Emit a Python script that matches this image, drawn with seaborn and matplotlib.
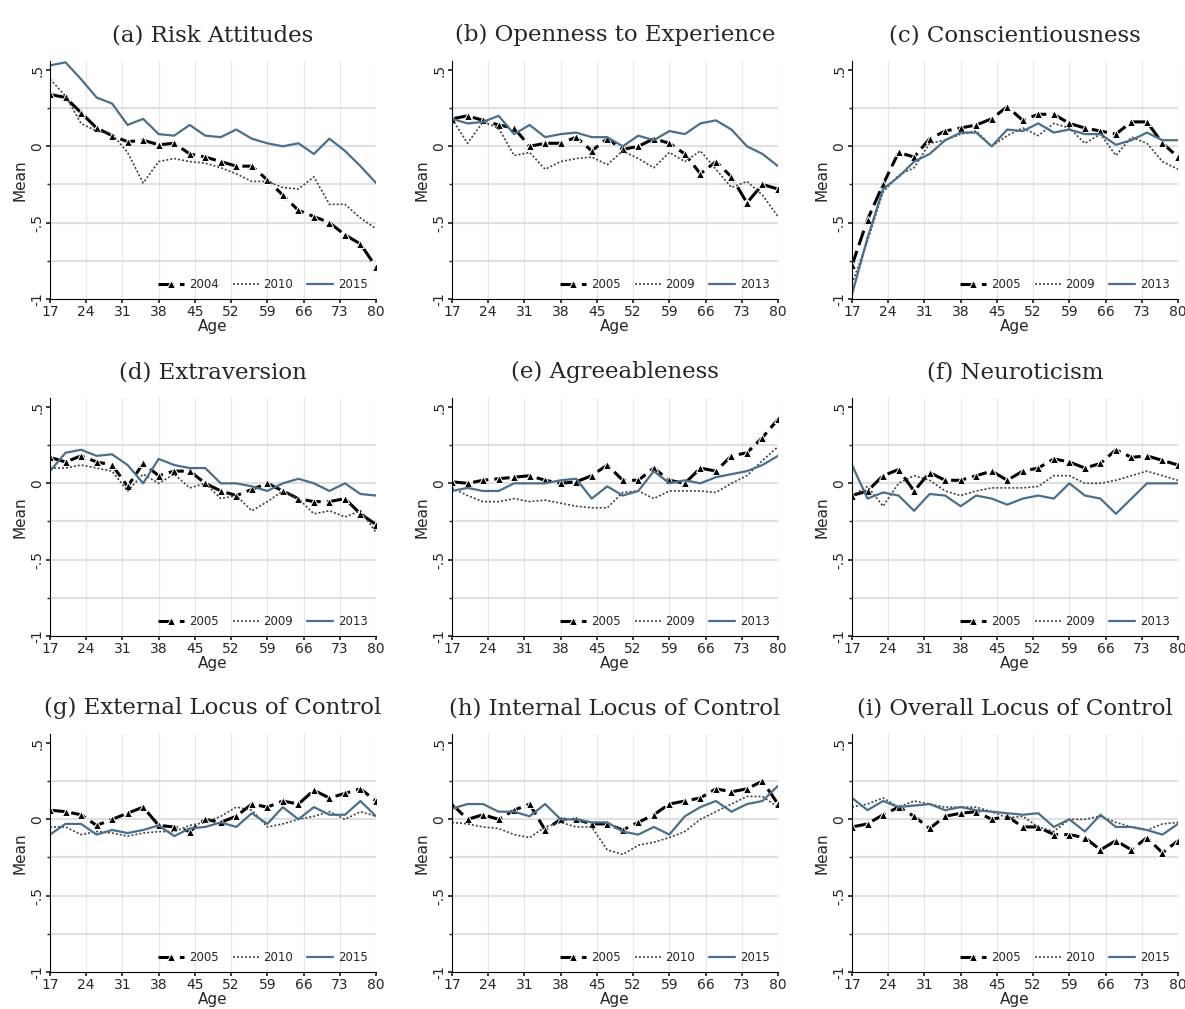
import numpy as np
import pandas as pd
import matplotlib
matplotlib.use("Agg")
import matplotlib.pyplot as plt
import seaborn as sns

ages = list(range(17, 81, 3))

titles = ["(a) Risk Attitudes", "(b) Openness to Experience", "(c) Conscientiousness",
          "(d) Extraversion", "(e) Agreeableness", "(f) Neuroticism",
          "(g) External Locus of Control", "(h) Internal Locus of Control", "(i) Overall Locus of Control"]
years = [["2004", "2010", "2015"], ["2005", "2009", "2013"], ["2005", "2009", "2013"],
         ["2005", "2009", "2013"], ["2005", "2009", "2013"], ["2005", "2009", "2013"],
         ["2005", "2010", "2015"], ["2005", "2010", "2015"], ["2005", "2010", "2015"]]

risk_1 = [.34,.32,.22,.12,.07,.03,.04,.01,.02,-.05,-.07,-.10,-.13,-.13,-.22,-.32,-.42,-.46,-.50,-.58,-.64,-.79]
risk_2 = [.44,.33,.15,.10,.08,-.04,-.24,-.10,-.08,-.10,-.11,-.14,-.18,-.23,-.23,-.27,-.28,-.20,-.38,-.38,-.47,-.54]
risk_3 = [.53,.55,.44,.32,.28,.14,.18,.08,.07,.14,.07,.06,.11,.05,.02,.0,.02,-.05,.05,-.03,-.13,-.24]
open_1 = [.18,.20,.17,.14,.12,.0,.02,.02,.06,-.03,.05,-.02,.0,.05,.02,-.05,-.18,-.10,-.20,-.37,-.25,-.28]
open_2 = [.18,.02,.16,.12,-.06,-.04,-.15,-.10,-.08,-.07,-.12,-.03,-.08,-.14,-.04,-.10,-.03,-.15,-.27,-.23,-.32,-.46]
open_3 = [.18,.15,.16,.20,.08,.14,.06,.08,.09,.06,.06,.0,.07,.04,.10,.08,.15,.17,.11,.0,-.05,-.13]
cons_1 = [-.78,-.48,-.25,-.04,-.07,.05,.10,.12,.14,.18,.26,.17,.21,.21,.15,.12,.10,.08,.16,.16,.02,-.07]
cons_2 = [-.90,-.62,-.30,-.19,-.14,.02,.04,.08,.10,.0,.07,.12,.07,.15,.12,.02,.08,-.06,.06,.02,-.10,-.15]
cons_3 = [-.97,-.60,-.28,-.20,-.10,-.05,.04,.09,.09,.0,.11,.10,.15,.09,.11,.08,.08,.01,.04,.09,.04,.04]
extr_1 = [.17,.14,.18,.14,.12,-.02,.13,.05,.08,.08,.0,-.05,-.08,-.04,.0,-.05,-.10,-.12,-.12,-.10,-.20,-.27]
extr_2 = [.10,.10,.12,.10,.08,-.05,.06,.0,.06,-.03,.0,-.10,-.08,-.18,-.12,-.05,-.10,-.20,-.18,-.22,-.18,-.32]
extr_3 = [.08,.20,.22,.18,.19,.12,.0,.16,.12,.10,.10,.0,.0,-.02,-.05,.0,.03,.0,-.05,0.0,-.07,-.08]
agre_1 = [.01,.0,.02,.03,.04,.05,.02,.0,.01,.05,.12,.02,.02,.10,.02,.0,.10,.08,.18,.20,.30,.42]
agre_2 = [-.03,-.08,-.12,-.12,-.10,-.12,-.11,-.13,-.15,-.16,-.16,-.06,-.05,-.10,-.05,-.05,-.05,-.06,0.0,.05,.15,.24]
agre_3 = [-.05,-.03,-.05,-.05,0.0,.0,.0,.02,.03,-.10,-.02,-.08,-.05,.08,.0,.02,0.0,.04,.06,.08,.12,.18]
neur_1 = [-.08,-.05,.05,.09,-.05,.07,.02,.02,.05,.08,.02,.08,.10,.16,.14,.10,.13,.22,.17,.18,.15,.12]
neur_2 = [-.08,-.02,-.15,.0,.05,.02,-.05,-.08,-.05,-.03,-.03,-.03,-.02,.05,.05,.0,.0,.02,.05,.08,.05,.02]
neur_3 = [.12,-.10,-.06,-.08,-.18,-.07,-.08,-.15,-.08,-.10,-.14,-.10,-.08,-.10,.0,-.08,-.10,-.20,-.10,.0,0.0,.0]
ext_1 = [.06,.05,.03,-.04,.0,.04,.08,-.04,-.05,-.08,.0,-.02,.02,.10,.08,.12,.10,.19,.14,.17,.20,.12]
ext_2 = [-.05,-.05,-.10,-.08,-.09,-.11,-.09,-.08,-.08,-.04,-.02,.02,.08,.06,-.05,-.03,0.0,.02,.05,.0,.05,.02]
ext_3 = [-.10,-.03,-.03,-.10,-.07,-.09,-.07,-.04,-.11,-.06,-.05,-.02,-.05,.04,-.03,.08,0.0,.08,.03,.03,.12,.02]
int_1 = [.10,.0,.03,.0,.06,.10,-.07,.0,.0,-.03,-.03,-.07,-.02,.03,.10,.12,.14,.20,.18,.20,.25,.10]
int_2 = [-.02,-.03,-.05,-.06,-.10,-.12,-.05,-.02,-.05,-.05,-.20,-.23,-.17,-.15,-.12,-.08,0.0,.05,.10,.15,.15,.08]
int_3 = [.07,.10,.10,.05,.05,.02,.10,.0,.0,-.02,-.02,-.08,-.10,-.05,-.10,.02,.08,.12,.05,.10,.12,.22]
ovr_1 = [-.05,-.03,.03,.08,.02,-.06,.02,.04,.05,.0,.02,-.05,-.05,-.10,-.10,-.12,-.20,-.14,-.20,-.12,-.22,-.14]
ovr_2 = [.08,.10,.14,.08,.12,.10,.08,.08,.08,.05,.01,.02,-.05,-.08,.0,.0,.02,-.02,-.05,-.07,-.03,-.02]
ovr_3 = [.14,.06,.12,.08,.09,.10,.06,.08,.06,.05,.04,.03,.04,-.05,.0,-.08,.03,-.05,-.05,-.07,-.10,-.03]

series = [(risk_1, risk_2, risk_3), (open_1, open_2, open_3), (cons_1, cons_2, cons_3),
          (extr_1, extr_2, extr_3), (agre_1, agre_2, agre_3), (neur_1, neur_2, neur_3),
          (ext_1, ext_2, ext_3), (int_1, int_2, int_3), (ovr_1, ovr_2, ovr_3)]

sns.set_theme(style="white")
plt.rcParams['font.family'] = ['DejaVu Sans']

fig = plt.figure(figsize=(11.85, 10.09), dpi=100)
lefts = [50/1185, 452/1185, 852/1185]
bottoms = [0.7037, 0.3697, 0.0367]
w, h = 326/1185, 0.236
xt = [17, 24, 31, 38, 45, 52, 59, 66, 73, 80]
styles = [dict(color="black", lw=2.2, ls=(0, (5, 2)), marker="^", ms=6),
          dict(color="#404040", lw=1.2, ls=(0, (1.2, 1.2))),
          dict(color="#4a6f8a", lw=1.6, ls="-")]

for i in range(9):
    r, c = divmod(i, 3)
    ax = fig.add_axes([lefts[c], bottoms[r], w, h])
    for k in range(3):
        df = pd.DataFrame({"Age": ages, "Mean": series[i][k]})
        sns.lineplot(data=df, x="Age", y="Mean", ax=ax, label=years[i][k], **styles[k])
    ax.set_xlim(17, 80)
    ax.set_ylim(-1, 0.56)
    ax.set_xticks(xt)
    ax.set_yticks([-1, -0.5, 0, 0.5])
    ax.set_yticklabels(["-1", "-.5", "0", ".5"], rotation=90, va="center")
    ax.set_yticks([-0.75, -0.25, 0.25], minor=True)
    for x in xt:
        ax.axvline(x, color="#e6e6e6", lw=0.8, zorder=0)
    for y in [-0.75, -0.5, -0.25, 0, 0.25]:
        ax.axhline(y, color="#e0e0e0", lw=1.5, zorder=0)
    ax.tick_params(axis="both", which="both", labelsize=10, length=3, direction="out",
                   bottom=True, left=True, pad=1)
    ax.tick_params(axis="y", which="minor", length=2)
    for s in ["top", "right"]:
        ax.spines[s].set_visible(False)
    for s in ["left", "bottom"]:
        ax.spines[s].set_color("black")
        ax.spines[s].set_linewidth(0.8)
    ax.set_xlabel("Age", fontsize=11, labelpad=0)
    ax.set_ylabel("Mean", fontsize=11, labelpad=2)
    ax.legend(loc="lower right", ncol=3, frameon=False, fontsize=8.5, handlelength=2.2,
              columnspacing=1.2, handletextpad=0.4, borderaxespad=0.3)
    ax.set_title(titles[i], family="DejaVu Serif", fontsize=16.5, pad=14)

fig.savefig("out.png", dpi=100, facecolor="white")
